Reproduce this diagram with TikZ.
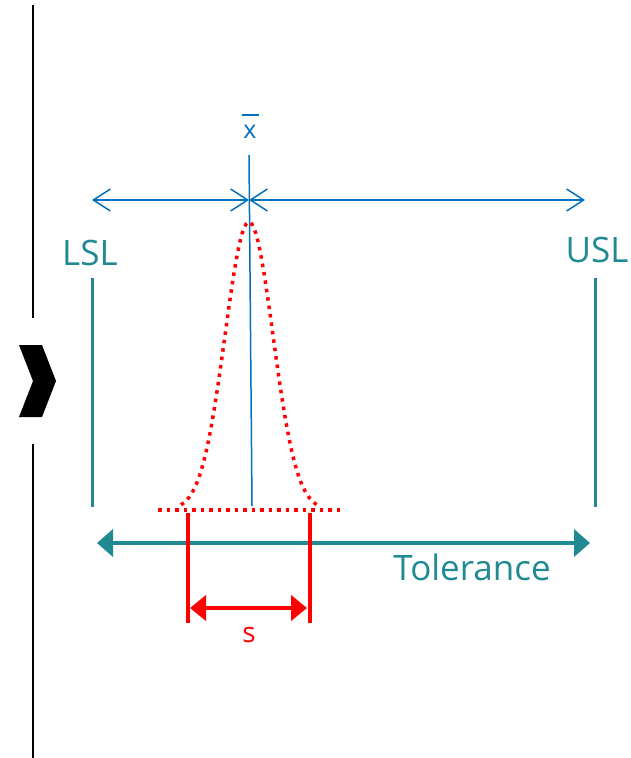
\documentclass[tikz,border=0pt]{standalone}
\usepackage{fontspec}
\setmainfont{Open Sans}
\usetikzlibrary{arrows.meta}
\definecolor{meanblue}{RGB}{0,112,192}
\definecolor{tealtol}{RGB}{33,137,146}
\begin{document}
\begin{tikzpicture}[x=1pt, y=-1pt,
  limit/.style={tealtol, line width=3pt},
  spread/.style={red, line width=4pt},
  bell/.style={red, line width=3.5pt, dash pattern=on 3.5pt off 5pt},
  lbl/.style={inner sep=0pt, font=\fontsize{35}{38}\selectfont}]
  \useasboundingbox (0,0) rectangle (631,758);

  % side bar with chevron
  \draw[line width=1.2pt] (33,5) -- (33,318);
  \draw[line width=1.2pt] (33,444) -- (33,758);
  \fill (19,345) -- (42,345) -- (56,381) -- (42,417) -- (19,417) -- (33,381) -- cycle;

  \coordinate (M) at (249,200);
  \coordinate (Mtop) at (249,155);
  \coordinate (Mbot) at (252,506);
  \coordinate (L) at (92,200);
  \coordinate (R) at (585,200);

  % mean line and range arrows
  \draw[meanblue, line width=1.5pt] (Mtop) -- (Mbot);
  \draw[meanblue, line width=1.5pt, {Straight Barb[length=17pt,width=22pt]}-{Straight Barb[length=17pt,width=22pt]}] (L) -- (M);
  \draw[meanblue, line width=1.5pt, {Straight Barb[length=17pt,width=22pt]}-{Straight Barb[length=17pt,width=22pt]}] (M) -- (R);
  \node[meanblue, inner sep=0pt, anchor=base, font=\fontsize{25}{28}\selectfont] (xbar) at (250,138)
    {\ooalign{x\cr\hidewidth\rule[0.9em]{0.68em}{0.08em}\hidewidth\cr}};

  % spec limits
  \draw[limit] (92,278) -- (92,507);
  \draw[limit] (595,278) -- (595,507);
  \node[lbl, tealtol] (lsl) at (90,253) {LSL};
  \node[lbl, tealtol] (usl) at (597,250) {USL};

  % distribution
  \draw[bell] (158,510) -- (343,510);
  \draw[bell, domain=-68:68, samples=70]
    plot ({249+\x}, {510-288*exp(-(\x*\x)/(2*24*24))});

  % tolerance
  \coordinate (T1) at (97,543);
  \coordinate (T2) at (590,543);
  \draw[tealtol, line width=4pt, {Triangle[length=16pt,width=27pt]}-{Triangle[length=16pt,width=27pt]}] (T1) -- (T2);
  \node[lbl, tealtol] (tol) at (472,567) {Tolerance};

  % standard deviation
  \draw[spread] (188,513) -- (188,623);
  \draw[spread] (310,513) -- (310,623);
  \coordinate (S1) at (190,608);
  \coordinate (S2) at (307,608);
  \draw[red, line width=4pt, {Triangle[length=16pt,width=25pt]}-{Triangle[length=16pt,width=25pt]}] (S1) -- (S2);
  \node[red, inner sep=0pt, font=\fontsize{28}{30}\selectfont] (s) at (249,635) {s};
\end{tikzpicture}
\end{document}
